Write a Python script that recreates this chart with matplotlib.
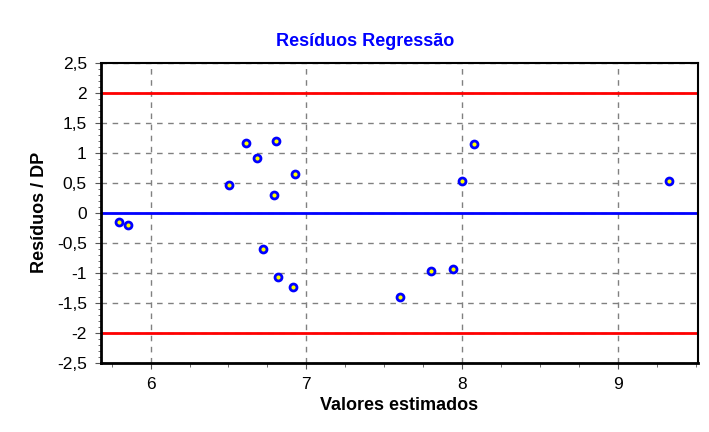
import numpy as np
import matplotlib.pyplot as plt
from matplotlib.ticker import MultipleLocator, FuncFormatter

plt.rcParams['font.family'] = ['Liberation Sans', 'DejaVu Sans']

# fitted values and standardized residuals
estimados = [5.794, 5.852, 6.503, 6.612, 6.685, 6.805, 6.794, 6.925, 6.721,
             6.820, 6.914, 7.601, 7.800, 7.942, 7.997, 8.076, 9.331]
residuos = [-0.155, -0.205, 0.457, 1.167, 0.912, 1.195, 0.295, 0.645, -0.61,
            -1.067, -1.233, -1.40, -0.972, -0.944, 0.528, 1.145, 0.528]
limite = 2

fig = plt.figure(figsize=(7.09, 4.32), dpi=100)
ax = fig.add_axes([0.142, 0.160, 0.8425, 0.695])

ax.set_xlim(5.679, 9.516)
ax.set_ylim(-2.5, 2.5)

ax.xaxis.set_major_locator(MultipleLocator(1))
ax.xaxis.set_minor_locator(MultipleLocator(0.25))
ax.yaxis.set_major_locator(MultipleLocator(0.5))
ax.yaxis.set_minor_locator(MultipleLocator(0.1))
virgula = FuncFormatter(lambda v, p: ('%g' % v).replace('.', ','))
ax.xaxis.set_major_formatter(virgula)
ax.yaxis.set_major_formatter(virgula)

ax.grid(True, which='major', color='#808080', linestyle=(0, (4, 4)), linewidth=1)
ax.set_axisbelow(True)

ax.axhline(limite, color='#ff0000', linewidth=2, zorder=2)
ax.axhline(-limite, color='#ff0000', linewidth=2, zorder=2)
ax.axhline(0, color='#0000ff', linewidth=2, zorder=2)

ax.plot(estimados, residuos, 'o', markersize=5, markerfacecolor='#ffff00',
        markeredgecolor='#0000ff', markeredgewidth=2, zorder=3)

for s in ax.spines.values():
    s.set_color('black')
    s.set_linewidth(1.5)
ax.spines['left'].set_linewidth(2)
ax.spines['bottom'].set_linewidth(2)

ax.tick_params(which='both', direction='out', color='#555555', labelsize=12.5)
ax.tick_params(which='major', length=4, pad=6)
ax.tick_params(which='minor', length=3)
ax.tick_params(axis='y', which='minor', length=2)

ax.set_xlabel('Valores estimados', fontsize=13, fontweight='bold', labelpad=4)
ax.set_ylabel('Resíduos / DP', fontsize=13, fontweight='bold', labelpad=6)
fig.text(365 / 709, 1 - 42 / 432, 'Resíduos Regressão', color='#0000ff',
         fontsize=13, fontweight='bold', ha='center', va='center')

fig.savefig('out.png', dpi=100)
